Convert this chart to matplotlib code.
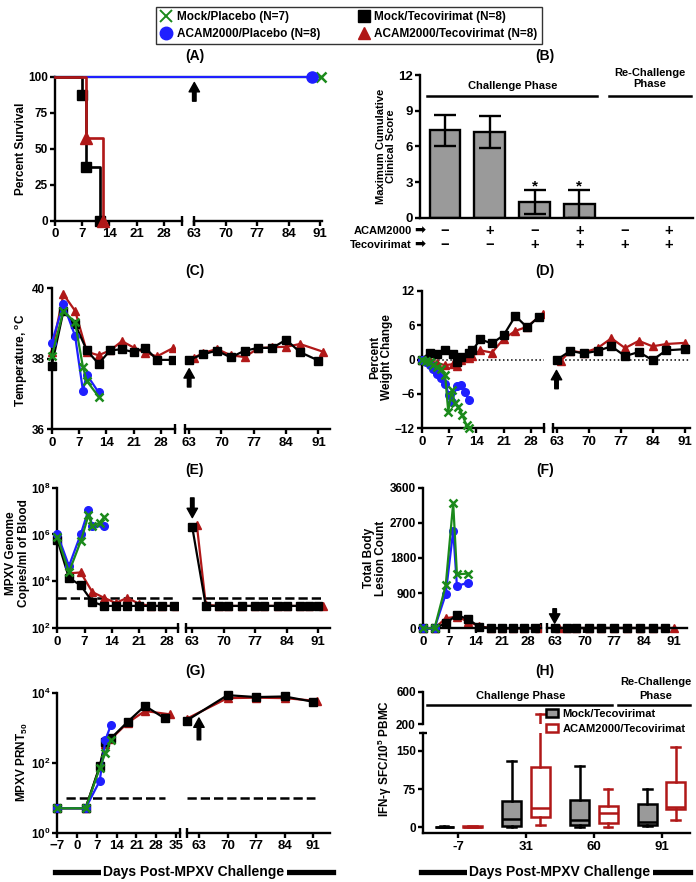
import numpy as np
import matplotlib
matplotlib.use('Agg')
import matplotlib.pyplot as plt
from matplotlib.lines import Line2D
from matplotlib.patches import Patch
from matplotlib.ticker import NullLocator

# ---------------- data ----------------
# (A) percent survival
surv_mock_pl_days = [0, 91.2]
surv_mock_pl = [100, 100]
surv_acam_pl_days = [0, 89.3]
surv_acam_pl = [100, 100]
surv_mock_tc_days = [0, 7, 8, 11.7]
surv_mock_tc = [100, 87.5, 37.5, 0]
surv_acam_tc_days = [0, 8, 12.3]
surv_acam_tc = [100, 57.1, 0]

# (B) maximum cumulative clinical score
score_mean = [7.35, 7.2, 1.3, 1.15]
score_sem = [1.28, 1.35, 1.0, 1.2]
score_star = [False, False, True, True]
acam_signs = ['−', '+', '−', '+', '−', '+']
teco_signs = ['−', '−', '+', '+', '+', '+']

# (C) temperature
temp_pl_days = [0, 3, 6, 8, 9, 12]
temp_mock_pl = [38.07, 39.36, 39.03, 37.77, 37.37, 36.93]
temp_acam_pl = [38.45, 39.55, 38.65, 37.1, 37.55, 37.05]
temp_mock_tc_days = [0, 3, 6, 9, 12, 15, 18, 21, 24, 27, 31,
                     63, 66, 69, 72, 75, 78, 81, 84, 87, 91]
temp_mock_tc = [37.8, 39.35, 38.98, 38.24, 37.86, 38.24, 38.27, 38.19, 38.31, 37.97, 37.97,
                37.97, 38.13, 38.23, 38.04, 38.23, 38.31, 38.31, 38.54, 38.19, 37.95]
temp_acam_tc_days = [0, 3, 6, 9, 12, 15, 18, 21, 24, 27, 31,
                     64, 66, 69, 72, 75, 78, 81, 84, 87, 92]
temp_acam_tc = [38.2, 39.83, 39.36, 38.2, 38.1, 38.24, 38.5, 38.32, 38.17, 38.07, 38.3,
                38.03, 38.16, 38.28, 38.1, 38.05, 38.3, 38.33, 38.34, 38.42, 38.2]

# (D) percent weight change
wt_mock_pl_days = [0, 1, 2, 3, 4, 5, 6, 6.8, 7.7, 8.5, 9.4, 10.4, 11.5, 12.2]
wt_mock_pl = [0, -0.3, -0.5, -0.9, -1.3, -1.7, -2.7, -9.1, -5.4, -7.6, -8.3, -9.7, -11.5, -11.9]
wt_acam_pl_days = [0, 1, 2, 3, 4, 5, 6, 7, 7.7, 9, 10, 11, 12]
wt_acam_pl = [0, -0.4, -1.0, -1.7, -2.5, -3.2, -4.2, -6.2, -7.4, -4.6, -4.4, -5.6, -7.1]
wt_mock_tc_days = [0, 2, 4, 6, 8, 9, 10, 12, 13, 15, 18, 21, 24, 27, 30,
                   63, 66, 69, 72, 75, 78, 81, 84, 87, 91]
wt_mock_tc = [0, 1.2, 0.9, 1.6, 0.9, -0.4, 0.5, 1.05, 1.6, 3.5, 2.8, 4.25, 7.6, 5.6, 7.45,
              -0.1, 1.5, 1.05, 1.5, 2.3, 0.6, 1.3, -0.1, 1.6, 1.8]
wt_acam_tc_days = [0, 2, 4, 6, 8, 9, 10, 12, 13, 15, 18, 21, 24, 27, 31,
                   64, 66, 69, 72, 75, 78, 81, 84, 87, 91]
wt_acam_tc = [0, -0.3, -0.6, -1.0, -0.8, -1.2, 0.0, 0.3, 0.6, 1.6, 1.2, 3.6, 5.0, 5.7, 8.0,
              -0.2, 1.5, 1.2, 2.0, 3.7, 2.0, 3.25, 2.3, 2.7, 2.9]

# (E) MPXV genome copies / ml of blood
vir_lloq = 2000
vir_pl_days = [0, 3, 6, 8, 9, 12]
vir_acam_pl = [1.05e6, 4.5e4, 1.0e6, 1.1e7, 2.2e6, 2.2e6]
vir_mock_pl_days = [0, 3, 6, 8, 9, 11, 12]
vir_mock_pl = [8e5, 2.5e4, 5e5, 6.5e6, 2.3e6, 3.2e6, 5.5e6]
vir_mock_tc_days = [0, 3, 6, 9, 12, 15, 18, 21, 24, 27, 30,
                    63, 66, 69, 71, 74, 77, 79, 82, 84, 87, 89, 91]
vir_mock_tc = [6e5, 1.4e4, 6.8e3, 1.35e3, 900, 900, 900, 900, 900, 900, 900,
               2e6, 900, 900, 900, 900, 900, 900, 900, 900, 900, 900, 900]
vir_acam_tc_days = [0, 3, 6, 9, 12, 15, 18, 21, 24, 27, 30.6,
                    64, 66, 69, 71, 74, 77, 79, 82, 84, 87, 89, 92]
vir_acam_tc = [1e6, 2.2e4, 2.4e4, 3.5e3, 2.0e3, 1.2e3, 2.0e3, 1.1e3, 900, 900, 900,
               2.6e6, 1000, 900, 900, 900, 900, 900, 900, 900, 900, 900, 900]

# (F) total body lesion count
les_pl_days = [0, 3, 6, 8, 9, 12]
les_mock_pl = [0, 0, 1100, 3200, 1380, 1400]
les_acam_pl = [0, 0, 870, 2500, 1080, 1170]
les_mock_tc_days = [0, 3, 6, 9, 12, 15, 18, 21, 24, 27, 30,
                    63, 66, 68, 71, 74, 77, 80, 83, 86, 89]
les_mock_tc = [0, 0, 130, 340, 230, 40, 0, 0, 0, 0, 0,
               0, 0, 0, 0, 0, 0, 0, 0, 0, 0]
les_acam_tc_days = [0, 3, 6, 9, 12, 15, 18, 21, 24, 27, 31,
                    64, 66, 68, 71, 74, 77, 80, 83, 86, 91]
les_acam_tc = [0, 0, 256, 300, 170, 50, 10, 0, 0, 0, 0,
               0, 0, 0, 0, 0, 0, 0, 0, 0, 0]

# (G) MPXV PRNT50
prnt_lod = 10
prnt_pl_days = [-7, 3, 8, 10, 12]
prnt_mock_pl = [5, 5, 70, 190, 450]
prnt_acam_pl = [5, 5, 30, 450, 1200]
prnt_mock_tc_days = [-7, 3, 8, 10, 12, 18, 24, 31, 60, 70, 77, 84, 91]
prnt_mock_tc = [5, 5, 80, 400, 500, 1500, 4200, 1850, 1600, 8500, 7500, 7800, 5500]
prnt_acam_tc_days = [-7, 3, 8, 10, 12, 18, 24, 33, 60, 70, 77, 84, 92]
prnt_acam_tc = [5, 5, 75, 350, 480, 1400, 3000, 2400, 1800, 7000, 7200, 7000, 5800]

# (H) IFN-gamma ELISPOT, box statistics
ifn_days = ['-7', '31', '60', '91']
mock_tc_lo = [0, 0, 0, 3]
mock_tc_q1 = [0, 3, 4.5, 4.5]
mock_tc_med = [0.5, 16, 14, 11]
mock_tc_q3 = [1.5, 52, 54, 45]
mock_tc_hi = [2, 130, 121, 75]
acam_tc_lo = [0, 5, 1, 14]
acam_tc_q1 = [0.3, 21, 8, 35]
acam_tc_med = [1, 37, 29, 40]
acam_tc_q3 = [2.5, 119, 42, 88]
acam_tc_hi = [3, 326, 75, 157]

# ---------------- style ----------------
GREEN = '#1b8a1b'
BLUE = '#1f1fff'
RED = '#b01818'
GRAY = '#9a9a9a'

plt.rcParams['font.family'] = ['Liberation Sans', 'DejaVu Sans']
plt.rcParams['font.weight'] = 'bold'
plt.rcParams['axes.labelweight'] = 'bold'
plt.rcParams['mathtext.fontset'] = 'custom'
plt.rcParams['mathtext.rm'] = 'Liberation Sans:bold'
plt.rcParams['mathtext.bf'] = 'Liberation Sans:bold'
plt.rcParams['mathtext.it'] = 'Liberation Sans:bold:italic'
plt.rcParams['mathtext.default'] = 'rm'
plt.rcParams['axes.linewidth'] = 1.7
plt.rcParams['xtick.major.width'] = 1.7
plt.rcParams['ytick.major.width'] = 1.7
plt.rcParams['xtick.major.size'] = 3.5
plt.rcParams['ytick.major.size'] = 3.5
plt.rcParams['xtick.major.pad'] = 2
plt.rcParams['ytick.major.pad'] = 1.5
plt.rcParams['xtick.labelsize'] = 9.5
plt.rcParams['ytick.labelsize'] = 8.5

W, H = 696, 882
fig = plt.figure(figsize=(W / 100, H / 100), dpi=100)

LW = 1.6
MS = 5.5


def seg_axes(px0, px1, ptop, pbot, xa, xb, ya, yb, log=False, ml=0.0, mr=0.0, my=0.05, yaxis=True):
    wpx = px1 - px0
    hpx = pbot - ptop
    ax = fig.add_axes([(px0 - ml * wpx) / W, 1 - (pbot + my * hpx) / H,
                       wpx * (1 + ml + mr) / W, hpx * (1 + 2 * my) / H])
    dx = xb - xa
    ax.set_xlim(xa - ml * dx, xb + mr * dx)
    if log:
        ax.set_yscale('log')
        la, lb = np.log10(ya), np.log10(yb)
        d = (lb - la) * my
        ax.set_ylim(10 ** (la - d), 10 ** (lb + d))
        ax.yaxis.set_minor_locator(NullLocator())
    else:
        d = (yb - ya) * my
        ax.set_ylim(ya - d, yb + d)
    ax.spines['top'].set_visible(False)
    ax.spines['right'].set_visible(False)
    ax.spines['bottom'].set_position(('data', ya))
    ax.spines['bottom'].set_bounds(xa, xb)
    if yaxis:
        ax.spines['left'].set_position(('data', xa))
        ax.spines['left'].set_bounds(ya, yb)
    else:
        ax.spines['left'].set_visible(False)
        ax.tick_params(axis='y', left=False, labelleft=False)
    ax.patch.set_visible(False)
    return ax


def pair(lpx, rpx, ptop, pbot, lx, rx, ylim, log=False, rml=0.03):
    axL = seg_axes(lpx[0], lpx[1], ptop, pbot, lx[0], lx[1], ylim[0], ylim[1], log, ml=0.05, mr=0.0)
    axR = seg_axes(rpx[0], rpx[1], ptop, pbot, rx[0], rx[1], ylim[0], ylim[1], log,
                   ml=rml, mr=0.05, yaxis=False)
    axL.plot([lx[1]], [ylim[0]], marker='|', ms=7, mew=1.7, color='k', clip_on=False)
    axR.plot([rx[0]], [ylim[0]], marker='|', ms=7, mew=1.7, color='k', clip_on=False)
    return axL, axR


def plot_split(axL, axR, days, vals, split=45, **kw):
    d = np.asarray(days, dtype=float)
    v = np.asarray(vals, dtype=float)
    m = d < split
    axL.plot(d[m], v[m], **kw)
    axR.plot(d[~m], v[~m], **kw)


def arrow(ax, x, y_from, y_to):
    ax.annotate('', xy=(x, y_to), xytext=(x, y_from), annotation_clip=False,
                arrowprops=dict(arrowstyle='simple,head_width=0.5,head_length=0.45,tail_width=0.17',
                                color='k', shrinkA=0, shrinkB=0, mutation_scale=15))


def ylab(text, xpx, ypx, size=8.5):
    fig.text(xpx / W, 1 - ypx / H, text, rotation=90, ha='center', va='center',
             ma='center', fontsize=size, linespacing=1.05)


def title(text, xpx, ypx):
    fig.text(xpx / W, 1 - ypx / H, text, ha='center', va='center', fontsize=10)


STY = {
    'mock_pl': dict(color=GREEN, marker='x', ms=MS, mew=1.8, lw=LW, zorder=5),
    'acam_pl': dict(color=BLUE, marker='o', ms=MS, lw=LW, zorder=4),
    'mock_tc': dict(color='k', marker='s', ms=MS, lw=LW, zorder=3),
    'acam_tc': dict(color=RED, marker='^', ms=MS, lw=LW, zorder=2),
}
LEFT_TICKS = [0, 7, 14, 21, 28]
RIGHT_TICKS = [63, 70, 77, 84, 91]

# ---------------- (A) survival ----------------
# right part reaches back over the gap so the 100 % line runs through it
axAL, axAR = pair((55, 181.7), (194.3, 321.7), 76.7, 220.7, (0, 32.6), (63, 91.4), (0, 100), rml=0.1)
for ax in (axAL, axAR):
    ax.plot(surv_mock_pl_days, surv_mock_pl, color=GREEN, lw=LW, marker='x', ms=7, mew=1.8,
            markevery=[1], zorder=2)
    ax.plot(surv_acam_pl_days, surv_acam_pl, color=BLUE, lw=LW, marker='o', ms=8,
            markevery=[1], zorder=3)
    ax.plot(surv_mock_tc_days, surv_mock_tc, color='k', lw=LW * 1.2, drawstyle='steps-post',
            marker='s', ms=7, markevery=[1, 2, 3], zorder=4)
    ax.plot(surv_acam_tc_days, surv_acam_tc, color=RED, lw=LW * 1.2, drawstyle='steps-post',
            marker='^', ms=8, markevery=[1, 2], zorder=5)
axAL.set_yticks([0, 25, 50, 75, 100])
axAL.set_xticks(LEFT_TICKS)
axAR.set_xticks(RIGHT_TICKS)
arrow(axAR, 63, 83, 96)
title('(A)', 195, 56)
ylab('Percent Survival', 21, 149)

# ---------------- (B) clinical score ----------------
axB = fig.add_axes([420 / W, 1 - 217.7 / H, (693 - 420) / W, (217.7 - 75) / H])
axB.set_xlim(-0.558, 5.536)
axB.set_ylim(0, 12)
xb = np.arange(len(score_mean))
axB.bar(xb, score_mean, width=0.69, color=GRAY, edgecolor='k', linewidth=1.7,
        yerr=score_sem, capsize=8, error_kw=dict(elinewidth=1.7, capthick=1.7, ecolor='k'))
for i, (m, e, s) in enumerate(zip(score_mean, score_sem, score_star)):
    if s:
        axB.text(i, m + e + 0.3, '*', ha='center', va='center', fontsize=11)
axB.set_yticks([0, 3, 6, 9, 12])
axB.set_xticks([])
axB.tick_params(axis='y', labelsize=9.5)
axB.spines['top'].set_visible(False)
axB.spines['right'].set_visible(False)
tr = axB.get_xaxis_transform()
for i, (a, t) in enumerate(zip(acam_signs, teco_signs)):
    axB.text(i, -0.09, a, transform=tr, ha='center', va='center', fontsize=10.5)
    axB.text(i, -0.19, t, transform=tr, ha='center', va='center', fontsize=10.5)
axB.text(-0.74, -0.09, 'ACAM2000', transform=tr, ha='right', va='center', fontsize=8)
axB.text(-0.74, -0.19, 'Tecovirimat', transform=tr, ha='right', va='center', fontsize=8)
axB.text(-0.57, -0.09, '➡', transform=tr, ha='center', va='center', fontsize=9.5,
         family='DejaVu Sans')
axB.text(-0.57, -0.19, '➡', transform=tr, ha='center', va='center', fontsize=9.5,
         family='DejaVu Sans')
axB.plot([-0.4, 3.39], [10.24, 10.24], color='k', lw=1.8, clip_on=False)
axB.plot([3.66, 5.5], [10.24, 10.24], color='k', lw=1.8, clip_on=False)
axB.text(1.51, 11.05, 'Challenge Phase', ha='center', va='center', fontsize=8)
axB.text(4.58, 11.7, 'Re-Challenge\nPhase', ha='center', va='center', fontsize=8,
         linespacing=1.1)
title('(B)', 545, 56)
ylab('Maximum Cumulative\nClinical Score', 386, 146, size=8)

# ---------------- (C) temperature ----------------
axCL, axCR = pair((51.7, 175), (185, 330), 288.3, 429.3, (0, 31.6), (62.1, 93.5), (36, 40))
plot_split(axCL, axCR, temp_acam_tc_days, temp_acam_tc, **STY['acam_tc'])
plot_split(axCL, axCR, temp_mock_tc_days, temp_mock_tc, **STY['mock_tc'])
plot_split(axCL, axCR, temp_pl_days, temp_acam_pl, **STY['acam_pl'])
plot_split(axCL, axCR, temp_pl_days, temp_mock_pl, **STY['mock_pl'])
axCL.set_yticks([36, 38, 40])
axCL.set_xticks(LEFT_TICKS)
axCR.set_xticks(RIGHT_TICKS)
arrow(axCR, 63, 37.2, 37.72)
title('(C)', 195, 271)
ylab('Temperature, $^{o}$C', 22, 360)

# ---------------- (D) weight change ----------------
axDL, axDR = pair((421.7, 544.3), (553.3, 690), 290.7, 428.3, (0, 31.4), (62.3, 92.2), (-12, 12))
for ax, (a, b) in ((axDL, (0, 31.4)), (axDR, (62.3, 92.2))):
    ax.hlines(0, a, b, colors='k', linestyles=':', lw=1.1, zorder=1)
plot_split(axDL, axDR, wt_acam_tc_days, wt_acam_tc, **STY['acam_tc'])
plot_split(axDL, axDR, wt_mock_tc_days, wt_mock_tc, **STY['mock_tc'])
plot_split(axDL, axDR, wt_acam_pl_days, wt_acam_pl, **STY['acam_pl'])
plot_split(axDL, axDR, wt_mock_pl_days, wt_mock_pl, **STY['mock_pl'])
axDL.set_yticks([-12, -6, 0, 6, 12])
axDL.set_xticks(LEFT_TICKS)
axDR.set_xticks(RIGHT_TICKS)
arrow(axDR, 63, -5.1, -1.9)
title('(D)', 545, 271)
ylab('Percent\nWeight Change', 381, 357)

# ---------------- (E) viremia ----------------
axEL, axER = pair((57.3, 178), (186, 330), 487.5, 628.3, (0, 31), (61.6, 93.6), (1e2, 1e8), log=True)
axEL.hlines(vir_lloq, 0, 30, colors='k', linestyles='--', lw=1.8, zorder=1)
axER.hlines(vir_lloq, 63, 92, colors='k', linestyles='--', lw=1.8, zorder=1)
plot_split(axEL, axER, vir_acam_tc_days, vir_acam_tc, **STY['acam_tc'])
plot_split(axEL, axER, vir_mock_tc_days, vir_mock_tc, **STY['mock_tc'])
plot_split(axEL, axER, vir_pl_days, vir_acam_pl, **STY['acam_pl'])
plot_split(axEL, axER, vir_mock_pl_days, vir_mock_pl, **STY['mock_pl'])
axEL.set_yticks([1e2, 1e4, 1e6, 1e8])
axEL.set_xticks(LEFT_TICKS)
axER.set_xticks(RIGHT_TICKS)
arrow(axER, 63, 3.6e7, 5.2e6)
title('(E)', 195, 470)
ylab('MPXV Genome\nCopies/ml of Blood', 17.5, 553)

# ---------------- (F) lesions ----------------
axFL, axFR = pair((423.3, 541), (547, 687), 487.5, 628.3, (0, 31.5), (61.2, 94.1), (0, 3600))
plot_split(axFL, axFR, les_acam_tc_days, les_acam_tc, **STY['acam_tc'])
plot_split(axFL, axFR, les_mock_tc_days, les_mock_tc, **STY['mock_tc'])
plot_split(axFL, axFR, les_pl_days, les_acam_pl, **STY['acam_pl'])
plot_split(axFL, axFR, les_pl_days, les_mock_pl, **STY['mock_pl'])
axFL.set_yticks([0, 900, 1800, 2700, 3600])
axFL.set_xticks(LEFT_TICKS)
axFR.set_xticks(RIGHT_TICKS)
arrow(axFR, 63, 500, 130)
title('(F)', 545, 470)
ylab('Total Body\nLesion Count', 375, 558)

# ---------------- (G) PRNT50 ----------------
axGL, axGR = pair((57.3, 180), (186.7, 330), 692.7, 832.7, (-7, 36.4), (60, 95.1), (1, 1e4), log=True)
axGL.hlines(prnt_lod, -4, 31, colors='k', linestyles='--', lw=1.8, zorder=1)
axGR.hlines(prnt_lod, 60, 91.5, colors='k', linestyles='--', lw=1.8, zorder=1)
plot_split(axGL, axGR, prnt_acam_tc_days, prnt_acam_tc, **STY['acam_tc'])
plot_split(axGL, axGR, prnt_mock_tc_days, prnt_mock_tc, **STY['mock_tc'])
plot_split(axGL, axGR, prnt_pl_days, prnt_acam_pl, **STY['acam_pl'])
plot_split(axGL, axGR, prnt_pl_days, prnt_mock_pl, **STY['mock_pl'])
axGL.set_yticks([1, 1e2, 1e4])
axGL.set_xticks([-7, 0, 7, 14, 21, 28, 35])
axGR.set_xticks(RIGHT_TICKS)
arrow(axGR, 63, 450, 1900)
title('(G)', 195, 671)
ylab('MPXV PRNT$_{50}$', 22, 762)

# ---------------- (H) IFN-gamma boxes ----------------
axHL = fig.add_axes([422.7 / W, 1 - 833.3 / H, (690 - 422.7) / W, 100 / H])
axHU = fig.add_axes([422.7 / W, 1 - 724.3 / H, (690 - 422.7) / W, 32.6 / H])
pos = np.arange(len(ifn_days))
mock_stats = [dict(whislo=a, q1=b, med=c, q3=d, whishi=e, fliers=[])
              for a, b, c, d, e in zip(mock_tc_lo, mock_tc_q1, mock_tc_med, mock_tc_q3, mock_tc_hi)]
acam_stats = [dict(whislo=a, q1=b, med=c, q3=d, whishi=e, fliers=[])
              for a, b, c, d, e in zip(acam_tc_lo, acam_tc_q1, acam_tc_med, acam_tc_q3, acam_tc_hi)]
for ax in (axHL, axHU):
    for stats, off, fc, ec in ((mock_stats, -0.21, GRAY, 'k'), (acam_stats, 0.21, 'white', RED)):
        ax.bxp(stats, positions=pos + off, widths=0.28, patch_artist=True, showfliers=False,
               manage_ticks=False, capwidths=0.13,
               boxprops=dict(facecolor=fc, edgecolor=ec, linewidth=1.8),
               medianprops=dict(color=ec, linewidth=1.8),
               whiskerprops=dict(color=ec, linewidth=1.8),
               capprops=dict(color=ec, linewidth=1.8))
    ax.set_xlim(-0.525, 3.42)
    ax.spines['top'].set_visible(False)
    ax.spines['right'].set_visible(False)
    ax.patch.set_visible(False)
axHL.set_ylim(-11.8, 184.6)
axHL.set_yticks([0, 75, 150])
axHL.set_xticks(pos)
axHL.set_xticklabels(ifn_days)
axHL.plot([-0.525], [184.6], marker='_', ms=6, mew=1.7, color='k', clip_on=False)
axHU.set_ylim(200, 600)
axHU.set_yticks([200, 600])
axHU.spines['bottom'].set_visible(False)
axHU.tick_params(axis='x', bottom=False, labelbottom=False)
axHU.tick_params(axis='y', labelsize=8.5)
axHU.plot([-0.46, 2.27], [437, 437], color='k', lw=1.8, clip_on=False)
axHU.plot([2.35, 3.42], [437, 437], color='k', lw=1.8, clip_on=False)
axHU.text(0.92, 545, 'Challenge Phase', ha='center', va='center', fontsize=8)
axHU.text(2.92, 545, 'Phase', ha='center', va='center', fontsize=8)
axHU.text(2.92, 725, 'Re-Challenge', ha='center', va='center', fontsize=8, clip_on=False)
fig.legend(handles=[Patch(facecolor=GRAY, edgecolor='k', linewidth=1.8),
                    Patch(facecolor='white', edgecolor=RED, linewidth=1.8)],
           labels=['Mock/Tecovirimat', 'ACAM2000/Tecovirimat'],
           loc='upper left', bbox_to_anchor=(546 / W, 1 - 709 / H), frameon=False,
           fontsize=8, handlelength=1.1, handleheight=0.7, handletextpad=0.4,
           labelspacing=0.45, borderaxespad=0, borderpad=0)
title('(H)', 545, 671)
ylab('IFN-γ SFC/10$^5$ PBMC', 385, 758)

# ---------------- shared x labels ----------------
for x0, x1, xc in ((55, 333, 194), (421, 690, 560)):
    y = 1 - 872 / H
    fig.add_artist(Line2D([x0 / W, x1 / W], [y, y], transform=fig.transFigure,
                          color='k', lw=3.8))
    fig.text(xc / W, y, 'Days Post-MPXV Challenge', ha='center', va='center', fontsize=10,
             bbox=dict(facecolor='white', edgecolor='none', pad=1.5))

# ---------------- top legend ----------------
handles = [Line2D([], [], ls='none', marker='x', color=GREEN, ms=8, mew=1.4),
           Line2D([], [], ls='none', marker='o', color=BLUE, ms=9),
           Line2D([], [], ls='none', marker='s', color='k', ms=8),
           Line2D([], [], ls='none', marker='^', color=RED, ms=9)]
labels = ['Mock/Placebo (N=7)', 'ACAM2000/Placebo (N=8)',
          'Mock/Tecovirimat (N=8)', 'ACAM2000/Tecovirimat (N=8)']
leg = fig.legend(handles, labels, ncol=2, loc='upper center', bbox_to_anchor=(349 / W, 1 - 1 / H),
                 frameon=True, fancybox=False, edgecolor='k', fontsize=8.5, handlelength=1.0,
                 handletextpad=0.4, columnspacing=3.2, borderpad=0.35, labelspacing=0.45)
leg.get_frame().set_linewidth(1.0)

fig.savefig('out.png', dpi=100)
